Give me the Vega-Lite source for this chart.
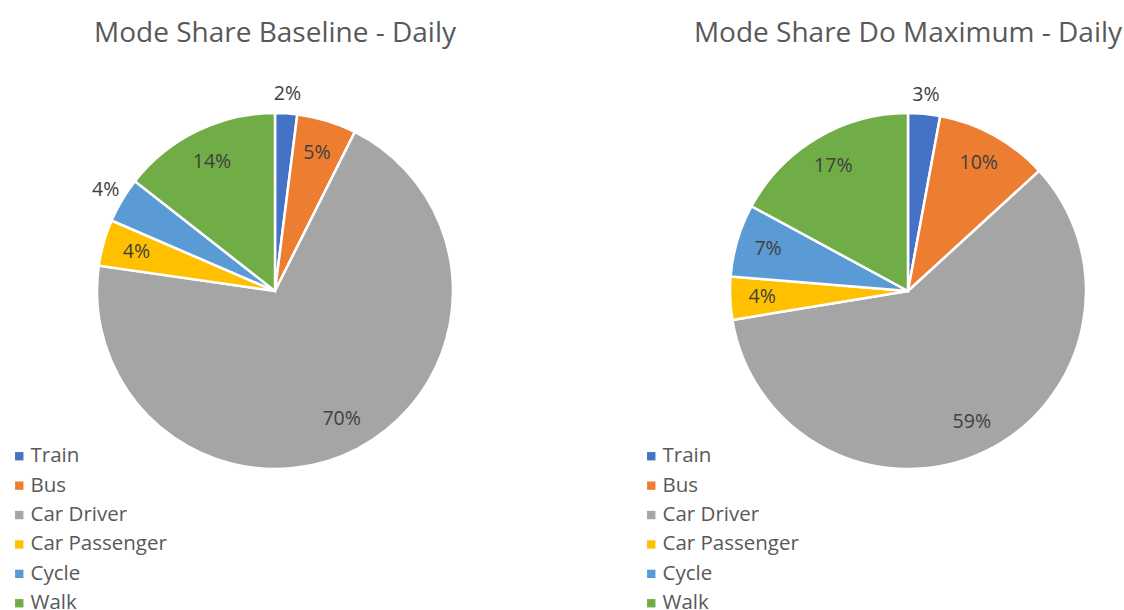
{
  "$schema": "https://vega.github.io/schema/vega-lite/v6.json",
  "padding": {"left": 9, "top": 20, "right": 0, "bottom": 0},
  "background": "white",
  "config": {
    "view": {"stroke": null},
    "font": "Open Sans",
    "title": {"fontSize": 28, "font": "Open Sans", "fontWeight": "normal", "color": "#595959", "anchor": "middle", "offset": 22},
    "legend": {"labelFont": "Open Sans", "labelFontSize": 20.5, "labelColor": "#595959", "symbolType": "square", "symbolSize": 70, "symbolStrokeWidth": 0, "rowPadding": 8.4, "labelOffset": 1, "title": null}
  },
  "data": {"values": [
    {"chart": "Baseline", "mode": "Train", "k": 1, "share": 0.020},
    {"chart": "Baseline", "mode": "Bus", "k": 2, "share": 0.054},
    {"chart": "Baseline", "mode": "Car Driver", "k": 3, "share": 0.698},
    {"chart": "Baseline", "mode": "Car Passenger", "k": 4, "share": 0.042},
    {"chart": "Baseline", "mode": "Cycle", "k": 5, "share": 0.041},
    {"chart": "Baseline", "mode": "Walk", "k": 6, "share": 0.144},
    {"chart": "DoMax", "mode": "Train", "k": 1, "share": 0.029},
    {"chart": "DoMax", "mode": "Bus", "k": 2, "share": 0.103},
    {"chart": "DoMax", "mode": "Car Driver", "k": 3, "share": 0.592},
    {"chart": "DoMax", "mode": "Car Passenger", "k": 4, "share": 0.039},
    {"chart": "DoMax", "mode": "Cycle", "k": 5, "share": 0.066},
    {"chart": "DoMax", "mode": "Walk", "k": 6, "share": 0.171}
  ]},
  "spacing": 151,
  "resolve": {"scale": {"color": "independent"}, "legend": {"color": "independent"}},
  "hconcat": [
    {
      "title": "Mode Share Baseline - Daily",
      "width": 430, "height": 442,
      "transform": [{"filter": "datum.chart == 'Baseline'"}],
      "encoding": {
        "theta": {"field": "share", "type": "quantitative", "stack": true},
        "order": {"field": "k", "type": "quantitative"}
      },
      "layer": [
        {
          "mark": {"type": "arc", "outerRadius": 178, "stroke": "white", "strokeWidth": 2.5},
          "encoding": {
            "color": {"field": "mode", "type": "nominal", "sort": ["Train", "Bus", "Car Driver", "Car Passenger", "Cycle", "Walk"],
              "scale": {"domain": ["Train", "Bus", "Car Driver", "Car Passenger", "Cycle", "Walk"], "range": ["#4472C4", "#ED7D31", "#A5A5A5", "#FFC000", "#5B9BD5", "#70AD47"]},
              "legend": {"orient": "none", "legendX": -51, "legendY": 376}}
          }
        },
        {
          "mark": {"type": "text", "radius": 144, "fontSize": 19.5, "color": "#404040", "font": "Open Sans"},
          "encoding": {
            "detail": {"field": "mode"},
            "text": {"condition": {"test": "datum.mode == 'Train' || datum.mode == 'Cycle'", "value": ""}, "field": "share", "type": "quantitative", "format": ".0%"}
          }
        },
        {
          "mark": {"type": "text", "radius": 197, "fontSize": 19.5, "color": "#404040", "font": "Open Sans"},
          "encoding": {
            "detail": {"field": "mode"},
            "text": {"condition": {"test": "!(datum.mode == 'Train' || datum.mode == 'Cycle')", "value": ""}, "field": "share", "type": "quantitative", "format": ".0%"}
          }
        }
      ]
    },
    {
      "title": "Mode Share Do Maximum - Daily",
      "width": 430, "height": 442,
      "transform": [{"filter": "datum.chart == 'DoMax'"}],
      "encoding": {
        "theta": {"field": "share", "type": "quantitative", "stack": true},
        "order": {"field": "k", "type": "quantitative"}
      },
      "layer": [
        {
          "mark": {"type": "arc", "outerRadius": 178, "stroke": "white", "strokeWidth": 2.5},
          "encoding": {
            "color": {"field": "mode", "type": "nominal", "sort": ["Train", "Bus", "Car Driver", "Car Passenger", "Cycle", "Walk"],
              "scale": {"domain": ["Train", "Bus", "Car Driver", "Car Passenger", "Cycle", "Walk"], "range": ["#4472C4", "#ED7D31", "#A5A5A5", "#FFC000", "#5B9BD5", "#70AD47"]},
              "legend": {"orient": "none", "legendX": -52, "legendY": 376}}
          }
        },
        {
          "mark": {"type": "text", "radius": 146, "fontSize": 19.5, "color": "#404040", "font": "Open Sans"},
          "encoding": {
            "detail": {"field": "mode"},
            "text": {"condition": {"test": "datum.mode == 'Train'", "value": ""}, "field": "share", "type": "quantitative", "format": ".0%"}
          }
        },
        {
          "mark": {"type": "text", "radius": 197, "fontSize": 19.5, "color": "#404040", "font": "Open Sans"},
          "encoding": {
            "detail": {"field": "mode"},
            "text": {"condition": {"test": "datum.mode != 'Train'", "value": ""}, "field": "share", "type": "quantitative", "format": ".0%"}
          }
        }
      ]
    }
  ]
}
